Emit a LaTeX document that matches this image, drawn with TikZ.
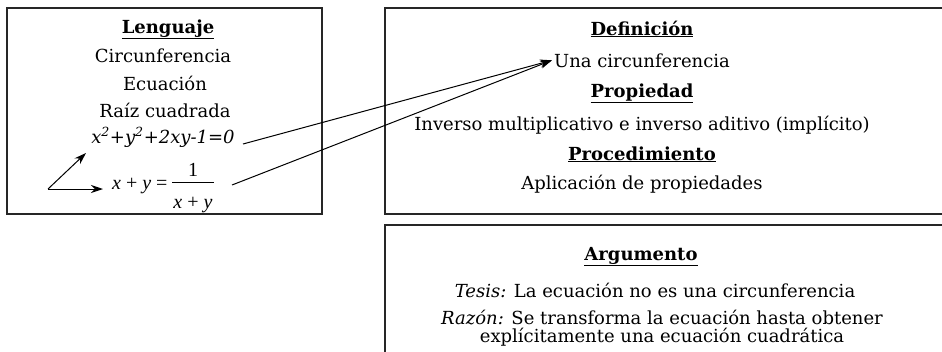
\documentclass[tikz,border=0pt]{standalone}
\usepackage{fontspec}
\setmainfont{DejaVu Serif}
\newfontfamily\eqfont{Liberation Serif}
\usetikzlibrary{arrows.meta}
\begin{document}
\begin{tikzpicture}[x=1pt,y=-1pt,
  box/.style={draw=black!85,line width=1.2pt},
  txt/.style={anchor=base,inner sep=0pt,font=\fontsize{18}{20}\selectfont},
  head/.style={anchor=base,inner sep=0pt,font=\fontsize{18}{20}\selectfont\bfseries},
  eqt/.style={anchor=base,inner sep=0pt,font=\fontsize{20}{22}\selectfont\eqfont},
  arr/.style={-{Stealth[length=12pt,width=8pt]},line width=1pt}]
\useasboundingbox (0,0) rectangle (942,351);
\clip (0,0) rectangle (942,351);
\draw[box] (7,8) rectangle (322,214);
\draw[box] (385,8) rectangle (960,214);
\draw[box] (385,225) rectangle (960,370);
% left box
\node[head] (len) at (168,33) {\underline{Lenguaje}};
\node[txt] (cir) at (163,62) {Circunferencia};
\node[txt] (ecu) at (165,90) {Ecuación};
\node[txt] (raiz) at (165,117) {Raíz cuadrada};
\node[txt] (eq) at (163,143) {\itshape x\textsuperscript{2}+y\textsuperscript{2}+2xy-1=0};
% fraction x + y = 1/(x+y)
\node[eqt,anchor=base west] (lhs) at (112,189) {\textit{x} + \textit{y} =};
\coordinate (b1) at (172,182);
\coordinate (b2) at (214,182);
\draw[line width=0.9pt] (b1) -- (b2);
\node[eqt] (num) at (193,176) {1};
\node[eqt] (den) at (193,208) {\textit{x} + \textit{y}};
\coordinate (c0) at (48,189);
\coordinate (a1) at (86,153);
\coordinate (a2) at (103,189);
\draw[arr] (c0) -- (a1);
\draw[arr] (c0) -- (a2);
% right box
\node[head] (def) at (642,35) {\underline{Definición}};
\node[txt] (una) at (642,67) {Una circunferencia};
\node[head] (prop) at (642,97) {\underline{Propiedad}};
\node[txt] (inv) at (642,130) {Inverso multiplicativo e inverso aditivo (implícito)};
\node[head] (proc) at (642,160) {\underline{Procedimiento}};
\node[txt] (apl) at (642,189) {Aplicación de propiedades};
% bottom box
\node[head] (arg) at (641,260) {\underline{Argumento}};
\node[txt] (tes) at (655,297) {\textit{Tesis:} La ecuación no es una circunferencia};
\node[txt] (raz1) at (662,324) {\textit{Razón:} Se transforma la ecuación hasta obtener};
\node[txt] (raz2) at (662,342) {explícitamente una ecuación cuadrática};
% long arrows
\coordinate (s1) at (243,144);
\coordinate (s2) at (232,185);
\draw[arr] (s1) -- ([xshift=-2pt]una.west);
\draw[arr] (s2) -- ([xshift=-2pt]una.west);
\end{tikzpicture}
\end{document}
